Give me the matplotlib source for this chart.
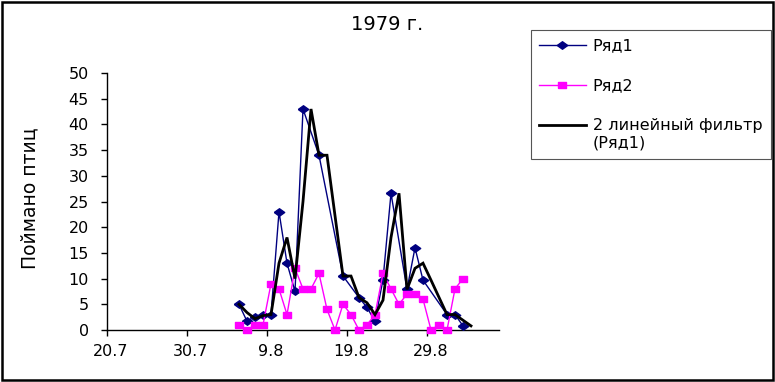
import numpy as np
import pandas as pd
import matplotlib
matplotlib.use("Agg")
import matplotlib.pyplot as plt
from matplotlib.patches import Rectangle
from matplotlib.legend_handler import HandlerLine2D

plt.rcParams['font.family'] = ['DejaVu Sans']

# ---------------- data ----------------
title = "1979 г."
y_label = "Поймано птиц"
axis_start = "20.7"
tick_labels = ["20.7", "30.7", "9.8", "19.8", "29.8"]
y_ticks = [0, 5, 10, 15, 20, 25, 30, 35, 40, 45, 50]

row1_name = "Ряд1"
row1_dates = ["5.8", "6.8", "7.8", "8.8", "9.8", "10.8", "11.8", "12.8", "13.8",
              "15.8", "18.8", "20.8", "21.8", "22.8", "23.8", "24.8", "26.8",
              "27.8", "28.8", "31.8", "1.9", "2.9"]
row1_values = [5, 1.7, 2.6, 3, 3, 23, 13, 7.5, 43,
               34, 10.5, 6.3, 4.4, 1.7, 9.8, 26.6, 7.9,
               16, 9.7, 3, 3, 0.8]

row2_name = "Ряд2"
row2_dates = ["5.8", "6.8", "7.8", "8.8", "9.8", "10.8", "11.8", "12.8", "13.8",
              "14.8", "15.8", "16.8", "17.8", "18.8", "19.8", "20.8", "21.8",
              "22.8", "23.8", "24.8", "25.8", "26.8", "27.8", "28.8", "29.8",
              "30.8", "31.8", "1.9", "2.9"]
row2_values = [1, 0, 1, 1, 9, 8, 3, 12, 8,
               8, 11, 4, 0, 5, 3, 0, 1,
               3, 11, 8, 5, 7, 7, 6, 0,
               1, 0, 8, 10]

filter_name = "2 линейный фильтр\n(Ряд1)"
filter_dates = ["5.8", "6.8", "7.8", "8.8", "9.8", "10.8", "11.8", "12.8", "13.8",
                "14.8", "15.8", "16.8", "18.8", "19.8", "20.8", "21.8", "22.8",
                "23.8", "24.8", "25.8", "26.8", "27.8", "28.8", "29.8", "31.8",
                "1.9", "2.9", "3.9"]
filter_values = [5, 3.4, 2.2, 2.8, 3, 13, 18, 10, 25,
                 43, 34, 34, 10.5, 10.5, 6.3, 5.3, 3,
                 5.8, 18, 26.6, 7.9, 12, 13, 9.7, 3,
                 3, 1.9, 0.8]

# ---------------- helpers ----------------
t0 = pd.to_datetime(axis_start + ".1979", format="%d.%m.%Y")


def day_pos(dates):
    d = pd.to_datetime([s + ".1979" for s in dates], format="%d.%m.%Y")
    return np.array((d - t0).days, dtype=float) + 0.5  # centre of the day slot


W, H = 775, 382
fig = plt.figure(figsize=(W / 100, H / 100), dpi=100)
ax = fig.add_axes([107 / W, 1 - 330 / H, (499 - 107) / W, (330 - 73) / H])

diamond = [(-1.0, 0.0), (0.0, 0.72), (1.0, 0.0), (0.0, -0.72), (-1.0, 0.0)]
rect = [(-1.0, -0.8), (1.0, -0.8), (1.0, 0.8), (-1.0, 0.8), (-1.0, -0.8)]

navy = "#000080"
magenta = "#FF00FF"

l1, = ax.plot(day_pos(row1_dates), row1_values, color=navy, lw=1.0,
              marker=diamond, ms=7.5, mfc=navy, mec=navy, label=row1_name, zorder=3,
              clip_on=False)
l2, = ax.plot(day_pos(row2_dates), row2_values, color=magenta, lw=1.0,
              marker=rect, ms=6.2, mfc=magenta, mec=magenta, label=row2_name, zorder=4,
              clip_on=False)
l3, = ax.plot(day_pos(filter_dates), filter_values, color="black", lw=2.0,
              label=filter_name, zorder=5, solid_joinstyle="miter", clip_on=False)

ax.set_xlim(0, 49)
ax.set_ylim(0, 50)
ax.set_yticks(y_ticks)

tick_pos = day_pos(tick_labels) - 0.5
ax.set_xticks(tick_pos)
ax.set_xticklabels([])
ax.set_xticks(tick_pos + 0.5, minor=True)
ax.set_xticklabels(tick_labels, minor=True)
ax.tick_params(axis="x", which="major", direction="out", length=4, width=1)
ax.tick_params(axis="x", which="minor", length=0, pad=10, labelsize=11.5)
ax.tick_params(axis="y", direction="out", length=4, width=1, pad=9, labelsize=11.5)

for s in ["top", "right"]:
    ax.spines[s].set_visible(False)
for s in ["left", "bottom"]:
    ax.spines[s].set_linewidth(1.0)
    ax.spines[s].set_color("black")

fig.text(0.5, 1 - 25 / H, title, ha="center", va="center", fontsize=14)
fig.text(30 / W, 1 - 198 / H, y_label, ha="center", va="center",
         rotation=90, fontsize=13.5)


class HandlerTop(HandlerLine2D):
    def create_artists(self, legend, orig_handle, xdescent, ydescent, width,
                       height, fontsize, trans):
        arts = super().create_artists(legend, orig_handle, xdescent, ydescent,
                                      width, height, fontsize, trans)
        for a in arts:
            a.set_ydata(np.asarray(a.get_ydata(), dtype=float) + 0.6 * fontsize)
        return arts


leg = fig.legend([l1, l2, l3], [row1_name, row2_name, filter_name],
                 loc="upper left",
                 bbox_to_anchor=(531 / W, 1 - 34 / H, 240 / W, 0.01),
                 mode="expand", borderaxespad=0, fontsize=11.5,
                 handlelength=2.9, handletextpad=0.45, borderpad=0.52,
                 labelspacing=1.56, numpoints=1, fancybox=False,
                 framealpha=1, edgecolor="#555555",
                 handler_map={l3: HandlerTop()})
leg.get_frame().set_linewidth(0.8)

fig.patches.append(Rectangle((2 / W, 2 / H), (771 / W), (378 / H),
                             transform=fig.transFigure, fill=False,
                             edgecolor="black", lw=1.8))

fig.savefig("out.png", dpi=100)
